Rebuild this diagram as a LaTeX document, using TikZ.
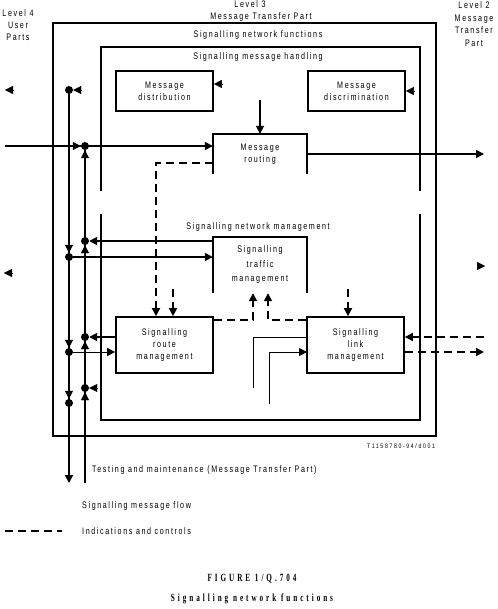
\documentclass[tikz,border=0pt]{standalone}
\usepackage{fontspec}
\usetikzlibrary{arrows.meta}
\newfontfamily\lblfont[FakeStretch=0.75,LetterSpace=17]{Liberation Sans}
\newfontfamily\tagfont[FakeStretch=0.8,LetterSpace=25]{Liberation Sans}
\newfontfamily\capfont[FakeStretch=0.65,LetterSpace=27]{Liberation Serif}
\newcommand\lbltext{\lblfont\fontsize{9.5}{12}\selectfont}
\newcommand\tagtext{\tagfont\fontsize{6.5}{7}\selectfont}
\newcommand\captext{\capfont\bfseries\fontsize{11}{12}\selectfont}

\begin{document}
\begin{tikzpicture}[x=1pt,y=-1pt,
    frame/.style={line width=1.7pt},
    fbox/.style={draw,line width=1.7pt,minimum width=97pt,minimum height=40pt,inner sep=0pt,align=center,font=\lbltext},
    obox/.style={minimum width=94pt,inner sep=0pt,align=center,font=\lbltext},
    lbl/.style={inner sep=0pt,align=center,font=\lbltext},
    dot/.style={circle,fill,inner sep=0pt,minimum size=8pt},
    flow/.style={line width=1.7pt,-{Triangle[length=8pt,width=8pt]}},
    thinflow/.style={line width=0.8pt,-{Triangle[length=8pt,width=8pt]}},
    ctrl/.style={line width=1.7pt,dash pattern=on 8pt off 5pt,-{Triangle[length=8pt,width=8pt]}},
    tip/.style={-{Triangle[length=8pt,width=8pt]}}]
  \useasboundingbox (0,0) rectangle (497,609);

  % levels
  \node[lbl] (lev4) at (18,25) {Level 4\\User\\Parts};
  \node[lbl] (lev3) at (250,4) {Level 3};
  \node[lbl] (mtp) at (261,17) {Message Transfer Part};
  \node[lbl,font=\lblfont\fontsize{9.5}{12.7}\selectfont] (lev2) at (474,24) {Level 2\\Message\\Transfer\\Part};

  \draw[frame] (53,23) rectangle (436,436);
  \node[lbl] (snf) at (258,35) {Signalling network functions};
  \draw[frame] (101,191) |- (420,47) -- (420,191);
  \draw[frame] (101,214) |- (420,420) -- (420,214);
  \node[lbl] (smh) at (258,57) {Signalling message handling};
  \node[lbl] (snm) at (258,227) {Signalling network management};

  % blocks
  \node[fbox] (dist) at (164.5,91) {Message\\distribution};
  \node[fbox] (disc) at (356.5,91) {Message\\discrimination};
  \node[obox,minimum height=40pt] (rt) at (260,154) {Message\\routing};
  \draw[frame] (rt.south west) -- (rt.north west) -- (rt.north east) -- (rt.south east);
  \node[obox,minimum height=56pt] (tm) at (260,265) {Signalling\\[2.5pt]traffic\\[2.5pt]management};
  \draw[frame] (tm.south west) -- (tm.north west) -- (tm.north east) -- (tm.south east);
  \node[fbox,minimum height=56pt] (route) at (164.5,345) {Signalling\\route\\management};
  \node[fbox,minimum height=56pt] (link) at (355.5,345) {Signalling\\link\\management};

  % junctions
  \foreach \n/\y in {1/90,2/257,3/352,4/403}
    \node[dot] (dn\n) at (69,\y) {};
  \foreach \n/\y in {1/146,2/241,3/337,4/388}
    \node[dot] (up\n) at (85,\y) {};
  \foreach \n in {2,3,4}
    \draw[tip] ([yshift=12pt]dn\n.center) -- (dn\n.north);
  \foreach \n in {1,...,4}
    \draw[tip] ([yshift=-12pt]up\n.center) -- (up\n.south);
  \draw[tip] ([xshift=12pt]dn1.center) -- (dn1.east);
  \draw[tip] ([xshift=12pt]up4.center) -- (up4.east);
  \draw[tip] ([xshift=-12pt]up1.center) -- (up1.west);

  \coordinate (dnend) at (69,483);
  \coordinate (upend) at (85,483);
  \draw[flow] (dn1) -- (dnend);
  \draw[frame] (up1) -- (upend);

  % message flow
  \coordinate (l4in) at (5,146);
  \draw[flow] (l4in) -- (l4in -| rt.west);
  \coordinate (rtin) at (260,100);
  \draw[flow] (rtin) -- (rt.north);
  \coordinate (l2out) at (484,154);
  \draw[flow] (rt.east) -- (l2out);
  \draw[flow] (tm.west |- up2) -- (up2.east);
  \draw[flow] (dn2) -- (tm.west |- dn2);
  \draw[flow] (route.west |- up3) -- (up3.east);
  \draw[thinflow] (dn3) -- (route.west |- dn3);

  % loose arrow heads
  \coordinate (a1) at (5,90);
  \coordinate (a2) at (4,273);
  \coordinate (a3) at (485,266);
  \draw[tip] ([xshift=8pt]a1) -- (a1);
  \draw[tip] ([xshift=8pt]a2) -- (a2);
  \draw[tip] ([xshift=-8pt]a3) -- (a3);
  \draw[tip] ([shift={(9pt,7pt)}]dist.east) -- ([yshift=7pt]dist.east);
  \draw[tip] ([xshift=8pt]disc.east) -- (disc.east);

  % indications and controls
  \draw[ctrl] ([yshift=-9pt]rt.west) -| ([xshift=-8.5pt]route.north);
  \coordinate (rtctl) at (173,289);
  \draw[ctrl] (rtctl) -- (rtctl |- route.north);
  \coordinate (lkctl) at (348,289);
  \draw[ctrl] (lkctl) -- (lkctl |- link.north);
  \draw[ctrl] ([yshift=-4pt]route.north east) -| ([xshift=-7pt]tm.south);
  \draw[ctrl] ([yshift=-4pt]link.north west) -| ([xshift=8pt]tm.south);
  \coordinate (l2in) at (484,337);
  \coordinate (l2ctl) at (484,352);
  \draw[ctrl] (l2in) -- (l2in -| link.east);
  \draw[ctrl] (l2ctl -| link.east) -- (l2ctl);

  % testing lines
  \coordinate (ts1) at (253,388);
  \coordinate (ts2) at (269,404);
  \coordinate (lk1) at (307,337);
  \coordinate (lk2) at (307,352);
  \draw[line width=0.8pt] (ts1) |- (lk1);
  \draw[thinflow] (ts2) |- (lk2);

  \node[font=\tagtext,inner sep=0pt] (tag) at (401,446) {T1158780-94/d001};
  \node[lbl,anchor=west] (tst) at (92,470) {Testing and maintenance (Message Transfer Part)};

  % legend
  \node[lbl,anchor=west] (leg1) at (82,506) {Signalling message flow};
  \coordinate (lg1) at (5,531);
  \coordinate (lg2) at (62,531);
  \draw[line width=1.7pt,dash pattern=on 8pt off 5pt] (lg1) -- (lg2);
  \node[lbl,anchor=west] (leg2) at (82,531) {Indications and controls};

  \node[font=\captext,inner sep=0pt] (fig) at (252,579) {FIGURE 1/Q.704};
  \node[font=\captext,inner sep=0pt] (cap) at (252,599) {Signalling network functions};
\end{tikzpicture}
\end{document}
